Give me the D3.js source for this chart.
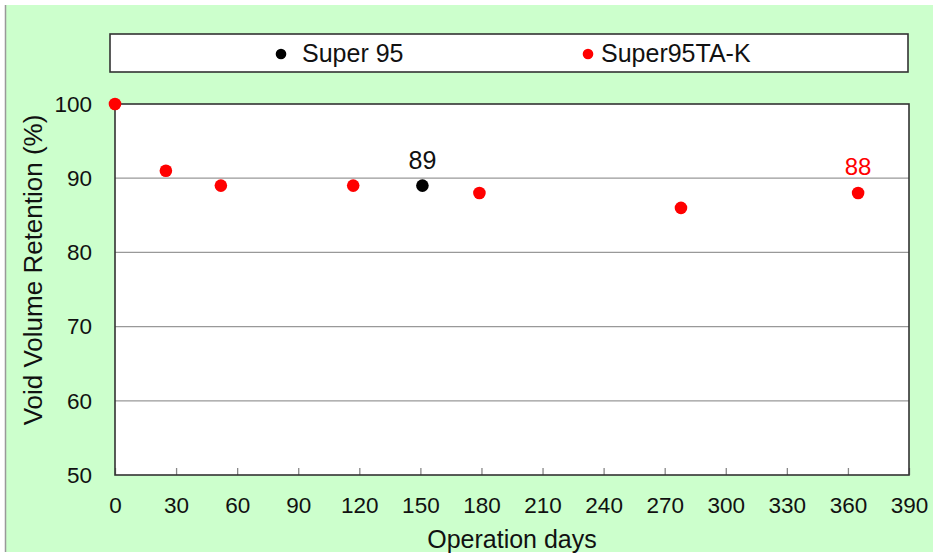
<!DOCTYPE html>
<html>
<head>
<meta charset="utf-8">
<script src="https://cdn.jsdelivr.net/npm/d3@7"></script>
<style>
  html, body { margin: 0; padding: 0; background: #fff; }
  text { font-family: "Liberation Sans", Arial, sans-serif; }
</style>
</head>
<body>
<svg id="chart" width="933" height="553"></svg>
<script>
// data
const super95Days = [151];
const super95Values = [89];
const taDays = [0, 25, 52, 117, 179, 278, 365];
const taValues = [100, 91, 89, 89, 88, 86, 88];
const xTicks = [0, 30, 60, 90, 120, 150, 180, 210, 240, 270, 300, 330, 360, 390];
const yTicks = [50, 60, 70, 80, 90, 100];
const seriesNames = ["Super 95", "Super95TA-K"];

const svg = d3.select("#chart");

// outer green panel
svg.append("rect")
  .attr("x", 5).attr("y", 5).attr("width", 928).attr("height", 547)
  .attr("fill", "#ccffcc");
svg.append("line")
  .attr("x1", 5.5).attr("x2", 5.5).attr("y1", 5).attr("y2", 552)
  .attr("stroke", "#999").attr("stroke-width", 1.5);

const plotL = 115, plotR = 909, plotT = 104, plotB = 475;

const x = d3.scaleLinear().domain([0, 390]).range([plotL, plotR]);
const y = d3.scaleLinear().domain([50, 100]).range([plotB, plotT]);

// plot area
svg.append("rect")
  .attr("x", plotL).attr("y", plotT)
  .attr("width", plotR - plotL).attr("height", plotB - plotT)
  .attr("fill", "#fff");

// gridlines
svg.append("g")
  .selectAll("line")
  .data(yTicks.filter((d) => d > 50 && d < 100))
  .enter()
  .append("line")
  .attr("x1", plotL).attr("x2", plotR)
  .attr("y1", (d) => y(d)).attr("y2", (d) => y(d))
  .attr("stroke", "#999").attr("stroke-width", 1.3);

// x axis: inward ticks, labels below
const xAxis = svg.append("g")
  .attr("transform", "translate(0," + plotB + ")")
  .call(d3.axisBottom(x).tickValues(xTicks).tickSizeInner(-7).tickSizeOuter(0));
xAxis.select(".domain").remove();
xAxis.selectAll(".tick line").attr("stroke", "#888").attr("stroke-width", 1.3);
xAxis.selectAll("text")
  .attr("y", 38).attr("dy", null)
  .attr("font-size", 22.5).attr("fill", "#111");

const yAxis = svg.append("g")
  .attr("transform", "translate(" + plotL + ",0)")
  .call(d3.axisLeft(y).tickValues(yTicks).tickSize(0).tickPadding(23));
yAxis.select(".domain").remove();
yAxis.selectAll("text").attr("font-size", 22.5).attr("fill", "#111");

// plot border
svg.append("rect")
  .attr("x", plotL).attr("y", plotT)
  .attr("width", plotR - plotL).attr("height", plotB - plotT)
  .attr("fill", "none").attr("stroke", "#333").attr("stroke-width", 1.6);

// axis titles
svg.append("text")
  .attr("x", 512).attr("y", 548)
  .attr("text-anchor", "middle")
  .attr("font-size", 25).attr("fill", "#111")
  .text("Operation days");
svg.append("text")
  .attr("transform", "translate(42,270) rotate(-90)")
  .attr("text-anchor", "middle")
  .attr("font-size", 26).attr("fill", "#111")
  .text("Void Volume Retention (%)");

// points
svg.append("g")
  .selectAll("circle")
  .data(taDays.map((d, i) => ({ day: d, v: taValues[i] })))
  .enter()
  .append("circle")
  .attr("cx", (d) => x(d.day)).attr("cy", (d) => y(d.v))
  .attr("r", 6.3).attr("fill", "#ff0000");

svg.append("g")
  .selectAll("circle")
  .data(super95Days.map((d, i) => ({ day: d, v: super95Values[i] })))
  .enter()
  .append("circle")
  .attr("cx", (d) => x(d.day)).attr("cy", (d) => y(d.v))
  .attr("r", 6.3).attr("fill", "#000");

// data labels
svg.append("text")
  .attr("x", x(super95Days[0])).attr("y", y(super95Values[0]) - 17)
  .attr("text-anchor", "middle").attr("font-size", 25).attr("fill", "#111")
  .text(super95Values[0]);
const last = taDays.length - 1;
svg.append("text")
  .attr("x", x(taDays[last])).attr("y", y(taValues[last]) - 18)
  .attr("text-anchor", "middle").attr("font-size", 24).attr("fill", "#ff0000")
  .text(taValues[last]);

// legend
svg.append("rect")
  .attr("x", 110).attr("y", 34).attr("width", 798).attr("height", 38)
  .attr("fill", "#fff").attr("stroke", "#333").attr("stroke-width", 1.6);
const legendItems = [
  { name: seriesNames[0], color: "#000", cx: 281, tx: 302 },
  { name: seriesNames[1], color: "#ff0000", cx: 588, tx: 601 },
];
const lg = svg.append("g").selectAll("g").data(legendItems).enter().append("g");
lg.append("circle")
  .attr("cx", (d) => d.cx).attr("cy", 54).attr("r", 5.3)
  .attr("fill", (d) => d.color);
lg.append("text")
  .attr("x", (d) => d.tx).attr("y", 62)
  .attr("font-size", 25).attr("fill", "#111")
  .text((d) => d.name);
</script>
</body>
</html>
